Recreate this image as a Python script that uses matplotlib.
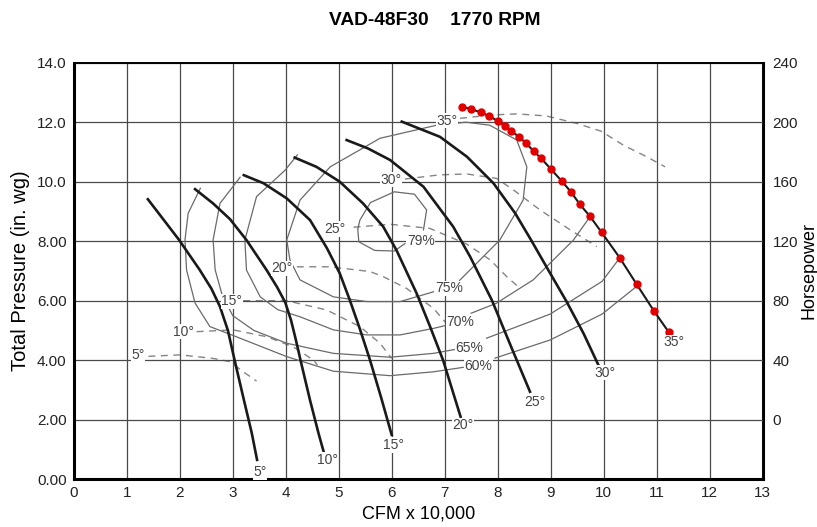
import matplotlib.pyplot as plt

plt.rcParams['font.family'] = ['Liberation Sans', 'DejaVu Sans']

# fan curves (total pressure vs CFM x 10,000), one per blade angle
fan5_x = [1.40, 1.99, 2.38, 2.60, 2.76, 2.91, 3.03, 3.20, 3.36, 3.46]
fan5_y = [9.41, 8.04, 7.03, 6.40, 5.80, 5.00, 4.05, 2.75, 1.55, 0.65]
fan10_x = [2.29, 2.63, 2.95, 3.26, 3.64, 3.84, 3.99, 4.10, 4.19, 4.28, 4.46, 4.62, 4.72]
fan10_y = [9.75, 9.27, 8.74, 8.04, 7.03, 6.45, 5.95, 5.35, 4.70, 4.00, 2.65, 1.54, 0.90]
fan15_x = [3.21, 3.58, 4.02, 4.46, 4.78, 5.02, 5.21, 5.40, 5.59, 5.80, 6.00]
fan15_y = [10.22, 9.95, 9.44, 8.71, 7.76, 6.92, 6.02, 5.05, 4.01, 2.75, 1.49]
fan20_x = [4.17, 4.58, 5.02, 5.46, 5.84, 6.09, 6.47, 6.72, 6.97, 7.30]
fan20_y = [10.81, 10.50, 10.00, 9.27, 8.49, 7.70, 6.25, 5.15, 4.00, 2.10]
fan25_x = [5.15, 5.55, 5.97, 6.60, 7.16, 7.48, 7.89, 8.28, 8.61]
fan25_y = [11.40, 11.12, 10.73, 9.83, 8.49, 7.48, 6.02, 4.34, 2.94]
fan30_x = [6.19, 6.91, 7.42, 7.92, 8.33, 8.63, 8.92, 9.30, 9.62, 9.90]
fan30_y = [12.02, 11.51, 10.84, 9.95, 8.94, 8.04, 7.14, 5.97, 4.90, 3.84]
fan35_x = [7.32, 7.50, 7.68, 7.84, 8.00, 8.14, 8.26, 8.40, 8.54, 8.68, 8.82,
           9.00, 9.21, 9.39, 9.55, 9.74, 9.96, 10.30, 10.62, 10.95, 11.23]
fan35_y = [12.52, 12.44, 12.33, 12.21, 12.04, 11.87, 11.70, 11.51, 11.29, 11.02, 10.79,
           10.43, 10.02, 9.64, 9.24, 8.84, 8.30, 7.45, 6.56, 5.65, 4.94]

fan_curves = [(fan5_x, fan5_y), (fan10_x, fan10_y), (fan15_x, fan15_y),
              (fan20_x, fan20_y), (fan25_x, fan25_y), (fan30_x, fan30_y)]
fan_labels = ["5°", "10°", "15°", "20°", "25°", "30°", "35°"]
fan_label_x = [3.52, 4.78, 6.03, 7.35, 8.70, 10.02, 11.33]
fan_label_y = [0.24, 0.65, 1.15, 1.82, 2.60, 3.58, 4.60]

# horsepower curves (dashed), right axis
hp5_x = [1.41, 2.01, 2.63, 2.95, 3.20, 3.45]
hp5 = [42.6, 43.6, 41.2, 39.0, 32.2, 26.0]
hp10_x = [2.32, 3.01, 3.64, 4.14, 4.52, 4.60]
hp10 = [59.2, 60.4, 55.8, 49.0, 40.2, 36.8]
hp15_x = [3.20, 4.02, 4.77, 5.40, 5.78, 6.00]
hp15 = [80.0, 80.0, 73.8, 62.6, 51.4, 41.2]
hp20_x = [4.21, 4.84, 5.59, 5.84, 6.28, 6.79, 7.05]
hp20 = [102.8, 102.8, 99.6, 96.2, 88.3, 74.8, 64.0]
hp25_x = [5.28, 5.97, 6.72, 7.42, 7.86, 8.17, 8.42]
hp25 = [129.4, 131.4, 128.6, 118.0, 107.4, 96.2, 88.4]
hp30_x = [6.25, 6.90, 7.42, 7.98, 8.30, 8.80, 9.37, 9.87]
hp30 = [161.8, 164.6, 165.2, 162.2, 154.4, 141.0, 127.6, 116.4]
hp35_x = [7.29, 7.86, 8.36, 8.92, 9.49, 9.95, 10.37, 10.81, 11.16]
hp35 = [202.6, 204.8, 205.6, 204.2, 199.2, 194.0, 184.6, 176.8, 170.0]

hp_curves = [(hp5_x, hp5), (hp10_x, hp10), (hp15_x, hp15), (hp20_x, hp20),
             (hp25_x, hp25), (hp30_x, hp30), (hp35_x, hp35)]
hp_label_x = [1.21, 2.07, 2.98, 3.93, 4.92, 5.99, 7.04]
hp_label_y = [4.17, 4.95, 5.98, 7.09, 8.41, 10.06, 12.05]

# efficiency contours
eff60_x = [2.39, 2.16, 2.10, 2.13, 2.29, 2.57, 2.98, 4.02, 4.90, 5.97, 6.79, 7.35]
eff60_y = [9.78, 8.94, 8.04, 7.03, 5.92, 5.13, 4.85, 4.12, 3.63, 3.48, 3.61, 3.76]
eff60r_x = [7.95, 8.99, 9.97, 10.60]
eff60r_y = [4.07, 4.68, 5.55, 6.45]
eff65_x = [3.14, 2.76, 2.63, 2.67, 2.80, 3.00, 3.40, 4.02, 4.90, 5.97, 6.79, 7.25]
eff65_y = [10.15, 9.27, 8.04, 7.03, 6.20, 5.50, 5.00, 4.57, 4.23, 4.10, 4.23, 4.38]
eff65r_x = [7.79, 8.99, 9.97, 10.30]
eff65r_y = [4.74, 5.55, 6.65, 7.43]
eff70_x = [4.22, 3.99, 3.45, 3.23, 3.26, 3.52, 3.85, 4.27, 4.90, 5.53, 6.16, 6.79, 7.05]
eff70_y = [10.90, 10.39, 9.50, 8.04, 7.03, 6.13, 5.70, 5.46, 5.02, 4.85, 4.85, 5.07, 5.18]
eff70r_x = [7.50, 7.97, 8.67, 9.43, 9.74]
eff70r_y = [5.58, 5.91, 6.70, 8.04, 8.82]
eff75_x = [7.28, 8.04, 8.48, 8.55, 8.36, 7.85, 7.40, 6.85, 5.78, 4.84, 4.27,
           4.02, 4.08, 4.27, 4.90, 5.53, 6.16, 6.79]
eff75_y = [6.68, 8.04, 9.38, 10.50, 11.40, 11.90, 12.00, 11.90, 11.46, 10.50, 9.38,
           8.04, 7.37, 6.70, 6.13, 5.97, 5.97, 6.30]
eff79_x = [6.25, 6.05, 5.68, 5.38, 5.36, 5.40, 5.60, 6.05, 6.43, 6.66, 6.60]
eff79_y = [7.92, 7.67, 7.69, 7.98, 8.40, 8.71, 9.30, 9.66, 9.58, 9.05, 8.38]

eff_curves = [(eff60_x, eff60_y), (eff60r_x, eff60r_y), (eff65_x, eff65_y),
              (eff65r_x, eff65r_y), (eff70_x, eff70_y), (eff70r_x, eff70r_y),
              (eff75_x, eff75_y), (eff79_x, eff79_y)]
eff_labels = ["79%", "75%", "70%", "65%", "60%"]
eff_label_x = [6.55, 7.08, 7.29, 7.46, 7.63]
eff_label_y = [8.00, 6.42, 5.28, 4.41, 3.80]

x_ticks = list(range(0, 14))
y_ticks = [0, 2, 4, 6, 8, 10, 12, 14]
y_ticklabels = ["0.00", "2.00", "4.00", "6.00", "8.00", "10.0", "12.0", "14.0"]
hp_ticks = [0, 40, 80, 120, 160, 200, 240]

fig = plt.figure(figsize=(8.17, 5.27), dpi=100)
ax = fig.add_axes([0.0902, 0.0907, 0.8433, 0.7903])
ax2 = ax.twinx()
ax.set_zorder(ax2.get_zorder() + 1)
ax.patch.set_visible(False)

ax.set_xlim(0, 13)
ax.set_ylim(0, 14)
ax2.set_ylim(-40, 240)

ax.set_xticks(x_ticks)
ax.set_yticks(y_ticks)
ax.set_yticklabels(y_ticklabels)
ax2.set_yticks(hp_ticks)
ax.grid(True, color="#4a4a4a", linewidth=0.9)
ax.tick_params(length=0, pad=5, labelsize=11, colors="#222")
ax2.tick_params(length=0, pad=7, labelsize=11, colors="#222")

for s in ["left", "bottom"]:
    ax.spines[s].set_linewidth(2.2)
ax.spines["top"].set_linewidth(1.4)
ax.spines["right"].set_visible(False)
for s in ["left", "bottom", "top"]:
    ax2.spines[s].set_visible(False)
ax2.spines["right"].set_linewidth(2.2)

# dashed horsepower curves on the right axis
for cx, cy in hp_curves:
    ax2.plot(cx, cy, color="#858585", linewidth=1.0, dashes=(5, 4))

# efficiency contours
for cx, cy in eff_curves:
    ax.plot(cx, cy, color="#6a6a6a", linewidth=0.9)

# fan curves
for cx, cy in fan_curves:
    ax.plot(cx, cy, color="#1a1a1a", linewidth=1.9)
ax.plot(fan35_x, fan35_y, color="#1a1a1a", linewidth=1.5, marker="o",
        markersize=5, markerfacecolor="#e00000", markeredgecolor="#e00000")

box = dict(facecolor="white", edgecolor="none", pad=0.4)
for lx, ly, s in zip(fan_label_x, fan_label_y, fan_labels):
    ax.text(lx, ly, s, fontsize=10, color="#444", ha="center", va="center", bbox=box)
for lx, ly, s in zip(hp_label_x, hp_label_y, fan_labels):
    ax.text(lx, ly, s, fontsize=10, color="#444", ha="center", va="center", bbox=box)
for lx, ly, s in zip(eff_label_x, eff_label_y, eff_labels):
    ax.text(lx, ly, s, fontsize=10, color="#444", ha="center", va="center", bbox=box)

ax.set_xlabel("CFM x 10,000", fontsize=13, labelpad=4)
ax.set_ylabel("Total Pressure (in. wg)", fontsize=14.5, labelpad=5)
ax2.set_ylabel("Horsepower", fontsize=13, labelpad=2)
fig.text(0.532, 0.962, "VAD-48F30    1770 RPM", ha="center", va="center",
         fontsize=13.8, fontweight="bold")

fig.savefig("out.png", dpi=100)
